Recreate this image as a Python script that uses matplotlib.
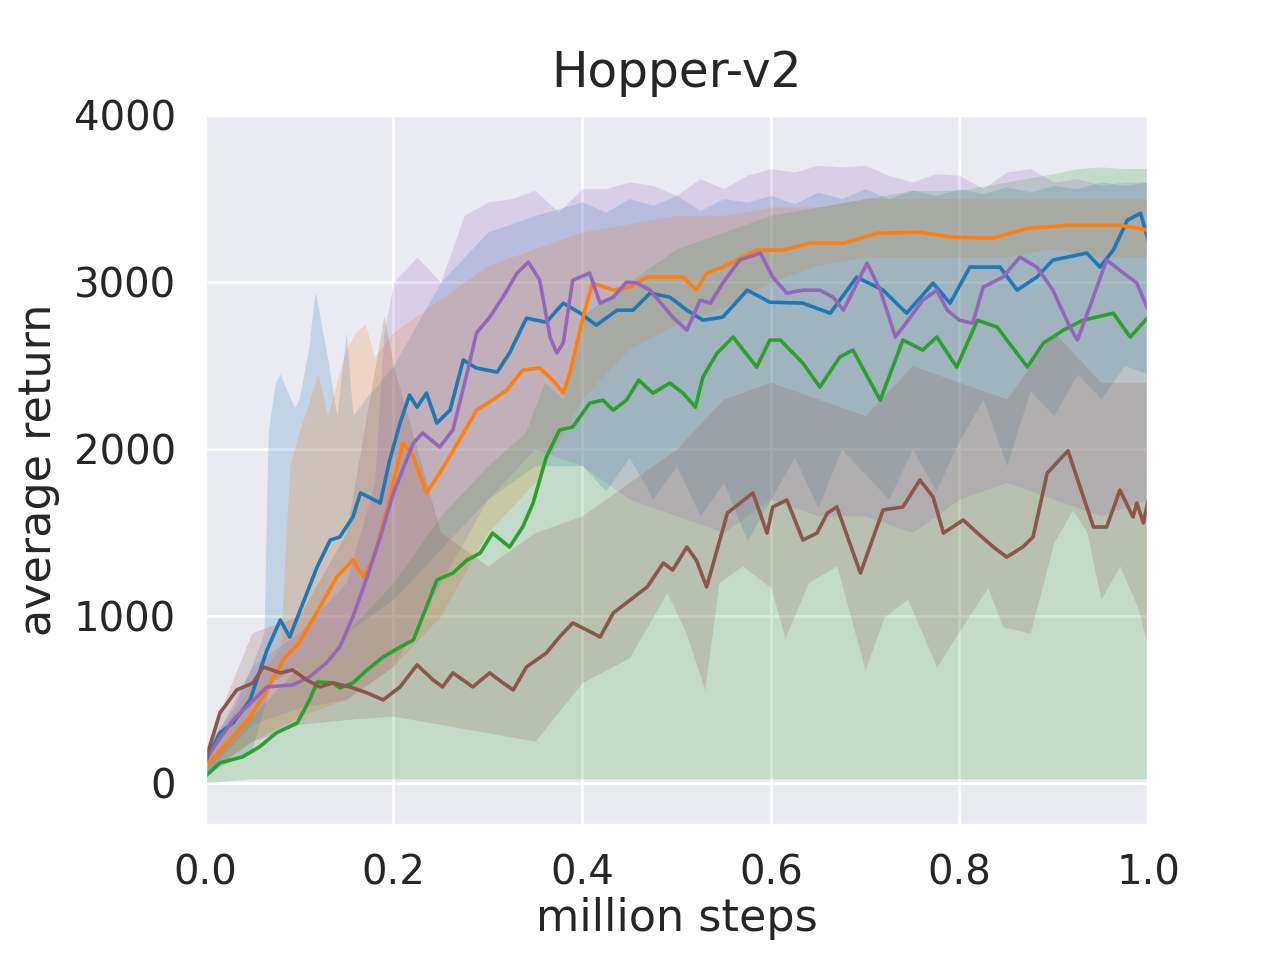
import matplotlib
matplotlib.use("Agg")
import matplotlib.pyplot as plt
import seaborn as sns
import numpy as np

sns.set_theme(style="darkgrid")
plt.rcParams['font.family'] = ['DejaVu Sans']

# ---------------- data (million steps, average return) ----------------
blue_x = [0, 0.016, 0.03, 0.048, 0.066, 0.08, 0.09, 0.1, 0.119, 0.133, 0.143, 0.157, 0.165, 0.186, 0.196,
          0.207, 0.217, 0.225, 0.235, 0.246, 0.26, 0.274, 0.288, 0.31, 0.323, 0.341, 0.362, 0.38, 0.398,
          0.415, 0.437, 0.454, 0.472, 0.493, 0.511, 0.528, 0.549, 0.575, 0.599, 0.634, 0.663, 0.691, 0.719,
          0.744, 0.772, 0.79, 0.811, 0.843, 0.861, 0.882, 0.899, 0.935, 0.949, 0.963, 0.978, 0.992, 1.0]
blue_y = [120, 300, 360, 497, 797, 976, 874, 1018, 1293, 1455, 1473, 1593, 1737, 1677, 1934,
          2156, 2323, 2251, 2335, 2156, 2233, 2533, 2485, 2461, 2575, 2784, 2760, 2874, 2814,
          2742, 2832, 2832, 2934, 2910, 2832, 2772, 2790, 2952, 2880, 2874, 2814, 3030, 2952,
          2814, 2994, 2874, 3090, 3090, 2952, 3030, 3132, 3174, 3090, 3192, 3371, 3413, 3251]

orange_x = [0, 0.03, 0.048, 0.066, 0.083, 0.1, 0.122, 0.14, 0.157, 0.168, 0.178, 0.193, 0.21, 0.221, 0.235,
            0.249, 0.27, 0.288, 0.305, 0.32, 0.337, 0.355, 0.369, 0.38, 0.387, 0.401, 0.411, 0.433, 0.451,
            0.469, 0.493, 0.507, 0.521, 0.532, 0.549, 0.564, 0.585, 0.613, 0.642, 0.677, 0.713, 0.758,
            0.793, 0.836, 0.872, 0.917, 0.97, 1.0]
orange_y = [96, 275, 395, 557, 737, 838, 1054, 1234, 1335, 1234, 1335, 1635, 2036, 1952, 1737,
            1856, 2054, 2233, 2293, 2353, 2473, 2485, 2413, 2335, 2455, 2790, 2994, 2952, 2970,
            3030, 3030, 3030, 2952, 3054, 3090, 3132, 3192, 3192, 3234, 3234, 3293, 3299,
            3269, 3263, 3323, 3341, 3341, 3311]

green_x = [0, 0.016, 0.04, 0.058, 0.076, 0.098, 0.111, 0.119, 0.136, 0.143, 0.157, 0.172, 0.189, 0.207,
           0.221, 0.235, 0.246, 0.263, 0.278, 0.292, 0.305, 0.323, 0.337, 0.348, 0.355, 0.362, 0.376,
           0.39, 0.408, 0.422, 0.433, 0.447, 0.46, 0.475, 0.493, 0.507, 0.52, 0.528, 0.543, 0.56, 0.585,
           0.599, 0.61, 0.634, 0.652, 0.673, 0.687, 0.716, 0.74, 0.761, 0.776, 0.797, 0.819, 0.84,
           0.872, 0.889, 0.91, 0.931, 0.963, 0.981, 1.0]
green_y = [36, 120, 156, 216, 300, 359, 497, 605, 599, 569, 599, 677, 754, 814,
           856, 1054, 1216, 1257, 1335, 1377, 1497, 1413, 1533, 1677, 1814, 1952, 2114,
           2132, 2275, 2293, 2233, 2293, 2413, 2335, 2395, 2335, 2251, 2431, 2575, 2671, 2491,
           2653, 2653, 2515, 2371, 2551, 2593, 2293, 2653, 2593, 2671, 2491, 2772, 2730,
           2491, 2635, 2712, 2772, 2814, 2671, 2790]

purple_x = [0, 0.03, 0.066, 0.093, 0.111, 0.129, 0.143, 0.157, 0.172, 0.186, 0.2, 0.221, 0.231, 0.249,
            0.263, 0.278, 0.288, 0.302, 0.316, 0.331, 0.343, 0.355, 0.366, 0.373, 0.38, 0.39, 0.408,
            0.419, 0.433, 0.447, 0.458, 0.472, 0.496, 0.511, 0.525, 0.536, 0.549, 0.567, 0.589, 0.602,
            0.617, 0.634, 0.652, 0.666, 0.677, 0.702, 0.716, 0.732, 0.748, 0.761, 0.776, 0.787, 0.8,
            0.814, 0.825, 0.846, 0.864, 0.882, 0.899, 0.917, 0.925, 0.938, 0.956, 0.974, 0.988, 1.0]
purple_y = [138, 377, 575, 587, 635, 719, 814, 994, 1234, 1473, 1737, 2036, 2096, 2012,
            2114, 2455, 2695, 2790, 2910, 3054, 3120, 3012, 2671, 2575, 2635, 3012, 3054,
            2874, 2910, 3000, 2994, 2952, 2790, 2712, 2892, 2874, 2994, 3132, 3174, 3030,
            2934, 2952, 2952, 2910, 2832, 3114, 2952, 2671, 2790, 2892, 2952, 2832, 2772,
            2754, 2970, 3030, 3150, 3090, 2952, 2730, 2653, 2850, 3132, 3054, 2994, 2832]

brown_x = [0, 0.016, 0.034, 0.051, 0.062, 0.08, 0.093, 0.108, 0.122, 0.136, 0.154, 0.172, 0.189, 0.207,
           0.225, 0.242, 0.252, 0.263, 0.284, 0.302, 0.316, 0.327, 0.341, 0.362, 0.376, 0.39, 0.405,
           0.419, 0.433, 0.451, 0.469, 0.486, 0.496, 0.511, 0.521, 0.532, 0.554, 0.581, 0.596, 0.602,
           0.617, 0.634, 0.649, 0.66, 0.67, 0.695, 0.719, 0.74, 0.758, 0.772, 0.783, 0.804, 0.819,
           0.836, 0.85, 0.867, 0.878, 0.893, 0.915, 0.942, 0.956, 0.97, 0.984, 0.988, 0.995, 1.0]
brown_y = [120, 419, 557, 599, 695, 659, 677, 617, 575, 599, 575, 539, 497, 575,
           707, 617, 575, 659, 575, 659, 599, 557, 695, 778, 874, 958, 916,
           874, 1018, 1096, 1174, 1317, 1275, 1413, 1335, 1174, 1617, 1737, 1497, 1653,
           1695, 1455, 1497, 1617, 1653, 1257, 1635, 1653, 1814, 1713, 1497, 1575, 1497,
           1413, 1353, 1413, 1473, 1856, 1990, 1533, 1533, 1754, 1593, 1677, 1557, 1695]

# ---------------- shaded bands (upper / lower bounds) ----------------
blue_up_x = [0, 0.03, 0.05, 0.063, 0.067, 0.075, 0.08, 0.087, 0.095, 0.1, 0.11, 0.117, 0.125, 0.13, 0.14,
             0.15, 0.157, 0.17, 0.2, 0.25, 0.3, 0.35, 0.4, 0.425, 0.45, 0.475, 0.5, 0.525, 0.55, 0.575,
             0.6, 0.625, 0.65, 0.675, 0.7, 0.725, 0.75, 0.775, 0.8, 0.825, 0.85, 0.875, 0.9, 0.925,
             0.95, 0.975, 1.0]
blue_up = [200, 450, 700, 900, 2100, 2400, 2450, 2350, 2250, 2300, 2600, 2950, 2700, 2550, 2200,
           2700, 2200, 2300, 2500, 3000, 3300, 3400, 3480, 3420, 3500, 3460, 3520, 3430, 3500, 3480,
           3520, 3470, 3540, 3500, 3560, 3500, 3550, 3520, 3560, 3530, 3570, 3540, 3580, 3560,
           3600, 3580, 3600]
blue_lo_x = [0, 0.05, 0.07, 0.1, 0.15, 0.2, 0.25, 0.3, 0.35, 0.4, 0.425, 0.45, 0.475, 0.5, 0.525,
             0.55, 0.575, 0.6, 0.625, 0.65, 0.675, 0.7, 0.725, 0.75, 0.775, 0.8, 0.825, 0.85, 0.875,
             0.9, 0.925, 0.95, 0.975, 1.0]
blue_lo = [50, 200, 600, 700, 900, 1100, 1400, 1700, 1900, 1900, 1750, 1950, 1700, 1900, 1600,
           1800, 1450, 1700, 1950, 1650, 2000, 1850, 1700, 2000, 1750, 2050, 2300, 1900, 2350,
           2200, 2450, 2300, 2500, 2450]

orange_up_x = [0, 0.05, 0.08, 0.09, 0.1, 0.12, 0.13, 0.15, 0.16, 0.17, 0.18, 0.2, 0.25, 0.3, 0.35, 0.4,
               0.45, 0.5, 0.55, 0.6, 0.65, 0.7, 0.75, 0.8, 0.85, 0.9, 0.95, 1.0]
orange_up = [150, 600, 800, 1900, 2100, 2450, 2200, 2600, 2700, 2750, 2550, 2700, 2900, 3100, 3200,
             3300, 3350, 3400, 3400, 3450, 3450, 3500, 3500, 3500, 3500, 3500, 3500, 3500]
orange_lo_x = [0, 0.05, 0.1, 0.15, 0.2, 0.25, 0.3, 0.35, 0.4, 0.45, 0.5, 0.55, 0.6, 0.65, 0.7, 0.75,
               0.8, 0.85, 0.9, 0.95, 1.0]
orange_lo = [50, 250, 400, 500, 700, 1000, 1500, 1800, 2300, 2600, 2750, 2850, 3000, 3100, 3150, 3150,
             3150, 3150, 3200, 3150, 3150]

green_up_x = [0, 0.05, 0.1, 0.15, 0.2, 0.25, 0.3, 0.34, 0.36, 0.38, 0.4, 0.45, 0.5, 0.55, 0.6, 0.65,
              0.7, 0.75, 0.8, 0.85, 0.9, 0.925, 0.95, 0.975, 1.0]
green_up = [100, 400, 700, 900, 1200, 1600, 1900, 2100, 2400, 2300, 2800, 3000, 3200, 3300, 3400,
            3450, 3500, 3550, 3550, 3600, 3650, 3680, 3690, 3680, 3680]
green_lo_x = [0, 0.05, 1.0]
green_lo = [0, 25, 25]

purple_up_x = [0, 0.05, 0.1, 0.15, 0.18, 0.19, 0.2, 0.225, 0.25, 0.275, 0.3, 0.325, 0.35, 0.375, 0.4,
               0.425, 0.45, 0.475, 0.5, 0.525, 0.55, 0.575, 0.6, 0.625, 0.65, 0.675, 0.7, 0.725, 0.75,
               0.775, 0.8, 0.825, 0.85, 0.875, 0.9, 0.925, 0.95, 0.975, 1.0]
purple_up = [150, 700, 900, 1200, 1800, 2700, 3000, 3150, 3000, 3400, 3480, 3500, 3550, 3420, 3560,
             3560, 3600, 3580, 3520, 3620, 3560, 3640, 3680, 3660, 3700, 3690, 3700, 3640, 3600,
             3650, 3640, 3560, 3660, 3680, 3600, 3620, 3580, 3600, 3600]
purple_lo_x = [0, 0.05, 0.1, 0.15, 0.2, 0.25, 0.3, 0.35, 0.4, 0.45, 0.5, 0.55, 0.6, 0.65, 0.7, 0.75,
               0.8, 0.85, 0.9, 0.95, 1.0]
purple_lo = [50, 350, 450, 500, 700, 1200, 1700, 2000, 1900, 1700, 1600, 1500, 1700, 1600, 1600, 1500,
             1700, 1800, 1700, 1600, 1700]

brown_up_x = [0, 0.05, 0.1, 0.15, 0.19, 0.2, 0.25, 0.3, 0.35, 0.4, 0.45, 0.5, 0.55, 0.6, 0.65, 0.7,
              0.75, 0.8, 0.85, 0.9, 0.95, 1.0]
brown_up = [200, 900, 1000, 1500, 2800, 2500, 1500, 1300, 1500, 1600, 1800, 2000, 2300, 2400, 2300,
            2200, 2500, 2400, 2300, 2700, 2400, 2400]
brown_lo_x = [0, 0.05, 0.1, 0.15, 0.2, 0.25, 0.3, 0.35, 0.4, 0.45, 0.49, 0.51, 0.53, 0.545, 0.57, 0.6,
              0.615, 0.64, 0.67, 0.7, 0.72, 0.745, 0.776, 0.81, 0.83, 0.846, 0.875, 0.9, 0.92, 0.935,
              0.95, 0.97, 0.99, 1.0]
brown_lo = [50, 250, 350, 380, 400, 350, 300, 250, 600, 750, 1140, 900, 557, 1200, 1300, 1170,
            870, 1200, 1300, 677, 994, 1100, 694, 1000, 1170, 934, 898, 1440, 1635, 1500,
            1100, 1300, 1036, 800]

series = [
    ("#1f77b4", blue_x, blue_y, blue_up_x, blue_up, blue_lo_x, blue_lo),
    ("#ff7f0e", orange_x, orange_y, orange_up_x, orange_up, orange_lo_x, orange_lo),
    ("#2ca02c", green_x, green_y, green_up_x, green_up, green_lo_x, green_lo),
    ("#9467bd", purple_x, purple_y, purple_up_x, purple_up, purple_lo_x, purple_lo),
    ("#8c564b", brown_x, brown_y, brown_up_x, brown_up, brown_lo_x, brown_lo),
]

x_ticks = [0.0, 0.2, 0.4, 0.6, 0.8, 1.0]
y_ticks = [0, 1000, 2000, 3000, 4000]

fig = plt.figure(figsize=(6.4, 4.8), dpi=200)
ax = fig.add_axes([0.160, 0.141, 0.737, 0.739])

common = np.linspace(0, 1, 801)
for color, lx, ly, ux, uy, dx, dy in series:
    up = np.interp(common, ux, uy)
    lo = np.interp(common, dx, dy)
    ax.fill_between(common, lo, up, color=color, alpha=0.2, linewidth=0)

for color, lx, ly, ux, uy, dx, dy in series:
    ax.plot(lx, ly, color=color, linewidth=1.3)

ax.set_xlim(0, 1.0)
ax.set_ylim(-250, 4000)
ax.set_xticks(x_ticks)
ax.set_xticklabels([f"{t:.1f}" for t in x_ticks])
ax.set_yticks(y_ticks)
ax.tick_params(axis='both', labelsize=14.5, length=0, pad=10.5, colors='.15')
ax.set_title("Hopper-v2", fontsize=17.5, color='.15', pad=10)
ax.set_xlabel("million steps", fontsize=16, color='.15', labelpad=1)
ax.set_ylabel("average return", fontsize=16, color='.15', labelpad=5)

fig.savefig("out.png", dpi=200)
